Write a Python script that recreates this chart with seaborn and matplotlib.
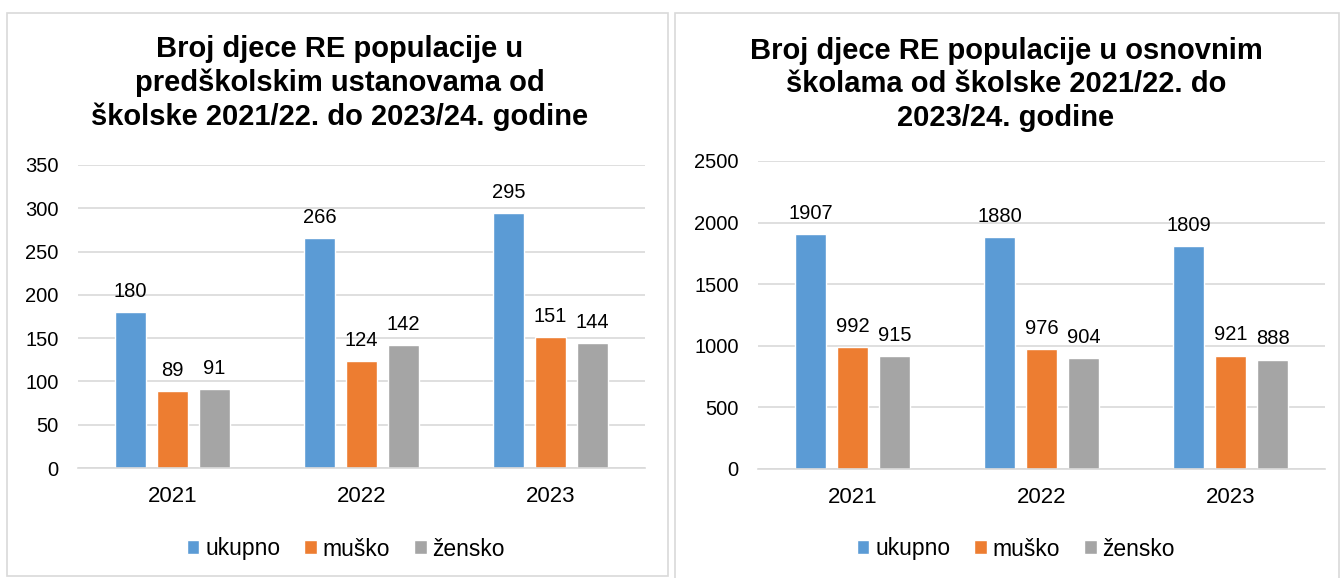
import pandas as pd
import matplotlib.pyplot as plt
import seaborn as sns
from matplotlib.patches import Rectangle

# podaci
godine = ["2021", "2022", "2023"]
serije = ["ukupno", "muško", "žensko"]
predskolsko_ukupno = [180, 266, 295]
predskolsko_musko = [89, 124, 151]
predskolsko_zensko = [91, 142, 144]
osnovna_ukupno = [1907, 1880, 1809]
osnovna_musko = [992, 976, 921]
osnovna_zensko = [915, 904, 888]

boje = ["#5B9BD5", "#ED7D31", "#A5A5A5"]

sns.set_style("white")
plt.rcParams["font.family"] = ["Liberation Sans", "DejaVu Sans"]
plt.rcParams["text.color"] = "black"


def u_tablicu(ukupno, musko, zensko):
    redovi = []
    for serija, vrijednosti in zip(serije, [ukupno, musko, zensko]):
        for g, v in zip(godine, vrijednosti):
            redovi.append({"godina": g, "serija": serija, "broj": v})
    return pd.DataFrame(redovi)


df_pred = u_tablicu(predskolsko_ukupno, predskolsko_musko, predskolsko_zensko)
df_osn = u_tablicu(osnovna_ukupno, osnovna_musko, osnovna_zensko)

fig = plt.figure(figsize=(13.44, 5.78), dpi=100)
W, H = 1344, 578

# okviri panela
fig.patches.append(Rectangle((7 / W, 1 - 576 / H), 661 / W, 563 / H, transform=fig.transFigure,
                             fill=False, edgecolor="#D9D9D9", linewidth=1.2))
fig.patches.append(Rectangle((675 / W, 1 - 580 / H), 664 / W, 567 / H, transform=fig.transFigure,
                             fill=False, edgecolor="#D9D9D9", linewidth=1.2))

ax1 = fig.add_axes([78 / W, 1 - 468 / H, 567 / W, 303 / H])
ax2 = fig.add_axes([758 / W, 1 - 469 / H, 567 / W, 308 / H])


def crtaj(ax, df, ymax, korak, naslov, tx, ty, lx):
    sns.barplot(data=df, x="godina", y="broj", hue="serija", palette=boje,
                saturation=1, width=0.667, gap=0.24, ax=ax, legend=True)
    ax.set_ylim(0, ymax)
    ax.set_yticks(range(0, ymax + 1, korak))
    ax.set_xlim(-0.5, 2.5)
    ax.grid(axis="y", color="#D9D9D9", linewidth=1.2)
    ax.set_axisbelow(True)
    for s in ["top", "right", "left"]:
        ax.spines[s].set_visible(False)
    ax.spines["bottom"].set_color("#D9D9D9")
    ax.spines["bottom"].set_linewidth(1.2)
    ax.tick_params(axis="both", length=0, colors="#000000")
    ax.tick_params(axis="x", pad=13, labelsize=16)
    ax.tick_params(axis="y", pad=14, labelsize=14.5)
    ax.set_xlabel("")
    ax.set_ylabel("")
    for c in ax.containers:
        ax.bar_label(c, fontsize=14.5, padding=8, color="black")
    ax.legend(loc="center", bbox_to_anchor=(lx / W, 1 - 549 / H), bbox_transform=fig.transFigure,
              ncol=3, frameon=False, fontsize=16.5, handlelength=0.55, handleheight=0.55,
              handletextpad=0.25, columnspacing=1.05, labelcolor="black")
    fig.text(tx, ty, naslov, ha="center", va="top", fontsize=21, fontweight="bold",
             linespacing=1.25, color="black")


crtaj(ax1, df_pred, 350, 50,
      "Broj djece RE populacije u\npredškolskim ustanovama od\nškolske 2021/22. do 2023/24. godine",
      340 / W, 1 - 35 / H, 346)
crtaj(ax2, df_osn, 2500, 500,
      "Broj djece RE populacije u osnovnim\nškolama od školske 2021/22. do\n2023/24. godine",
      1006 / W, 1 - 37 / H, 1016)

fig.savefig("out.png", dpi=100)
